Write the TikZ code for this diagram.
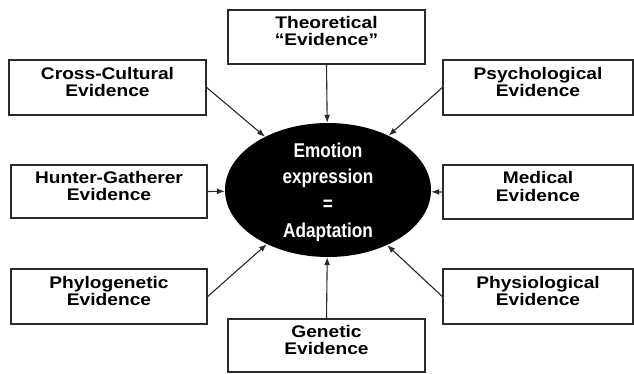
\documentclass[tikz,border=0pt]{standalone}
\usepackage{fontspec}
\setmainfont{Liberation Sans}
\newfontfamily\boxfont{Liberation Sans}[FakeStretch=1.14]
\newfontfamily\ellfont{Liberation Sans}[FakeStretch=0.86]
\usetikzlibrary{arrows.meta,shapes.geometric}
\definecolor{linegray}{HTML}{2A2A2A}
\tikzset{
  evbox/.style={draw=linegray, line width=1.4pt, fill=white, inner sep=0pt, rectangle},
  evtext/.style={align=center, font=\boxfont\bfseries\fontsize{16.8}{17.5}\selectfont, inner sep=0pt},
  arr/.style={draw=linegray, line width=1.1pt, -{Latex[length=8pt,width=6pt]}},
}
\begin{document}
\begin{tikzpicture}[x=1pt,y=-1pt]
\path[fill=white] (0,0) rectangle (634,373);
\useasboundingbox (0,0) rectangle (634,373);
% ellipse
\node[ellipse, fill=black, minimum width=206pt, minimum height=134pt, inner sep=0pt] (E) at (328,190) {};
\node[align=center, text=white, font=\ellfont\bfseries\fontsize{20}{26.7}\selectfont, inner sep=0pt] (Et) at (328,192) {Emotion\\expression\\=\\Adaptation};
% boxes
\node[evbox, minimum width=197pt, minimum height=54pt] (T) at (326.5,37) {};
\node[evtext] (Tt) at (326.5,31) {Theoretical\\“Evidence”};
\node[evbox, minimum width=197pt, minimum height=55pt] (CC) at (107.5,87.5) {};
\node[evtext] (CCt) at (107.5,82) {Cross-Cultural\\Evidence};
\node[evbox, minimum width=190pt, minimum height=55pt] (PS) at (538,87.5) {};
\node[evtext] (PSt) at (538,82) {Psychological\\Evidence};
\node[evbox, minimum width=196pt, minimum height=53pt] (HG) at (109,191.5) {};
\node[evtext] (HGt) at (109,186) {Hunter-Gatherer\\Evidence};
\node[evbox, minimum width=190pt, minimum height=54pt] (ME) at (538,192) {};
\node[evtext] (MEt) at (538,186.5) {Medical\\Evidence};
\node[evbox, minimum width=196pt, minimum height=55pt] (PH) at (109,296.5) {};
\node[evtext] (PHt) at (109,291) {Phylogenetic\\Evidence};
\node[evbox, minimum width=190pt, minimum height=55pt] (PY) at (538,296.5) {};
\node[evtext] (PYt) at (538,291) {Physiological\\Evidence};
\node[evbox, minimum width=197pt, minimum height=53pt] (G) at (326.5,345.5) {};
\node[evtext] (Gt) at (326.5,340) {Genetic\\Evidence};
% arrows
\draw[arr] (T.south) -- (E);
\draw[arr] (CC.east) -- (E);
\draw[arr] (PS.west) -- (E);
\draw[arr] (HG.east) -- (E);
\draw[arr] (ME.west) -- (E);
\draw[arr] (PH.east) -- (E);
\draw[arr] (PY.west) -- (E);
\draw[arr] (G.north) -- (E);
\end{tikzpicture}
\end{document}
